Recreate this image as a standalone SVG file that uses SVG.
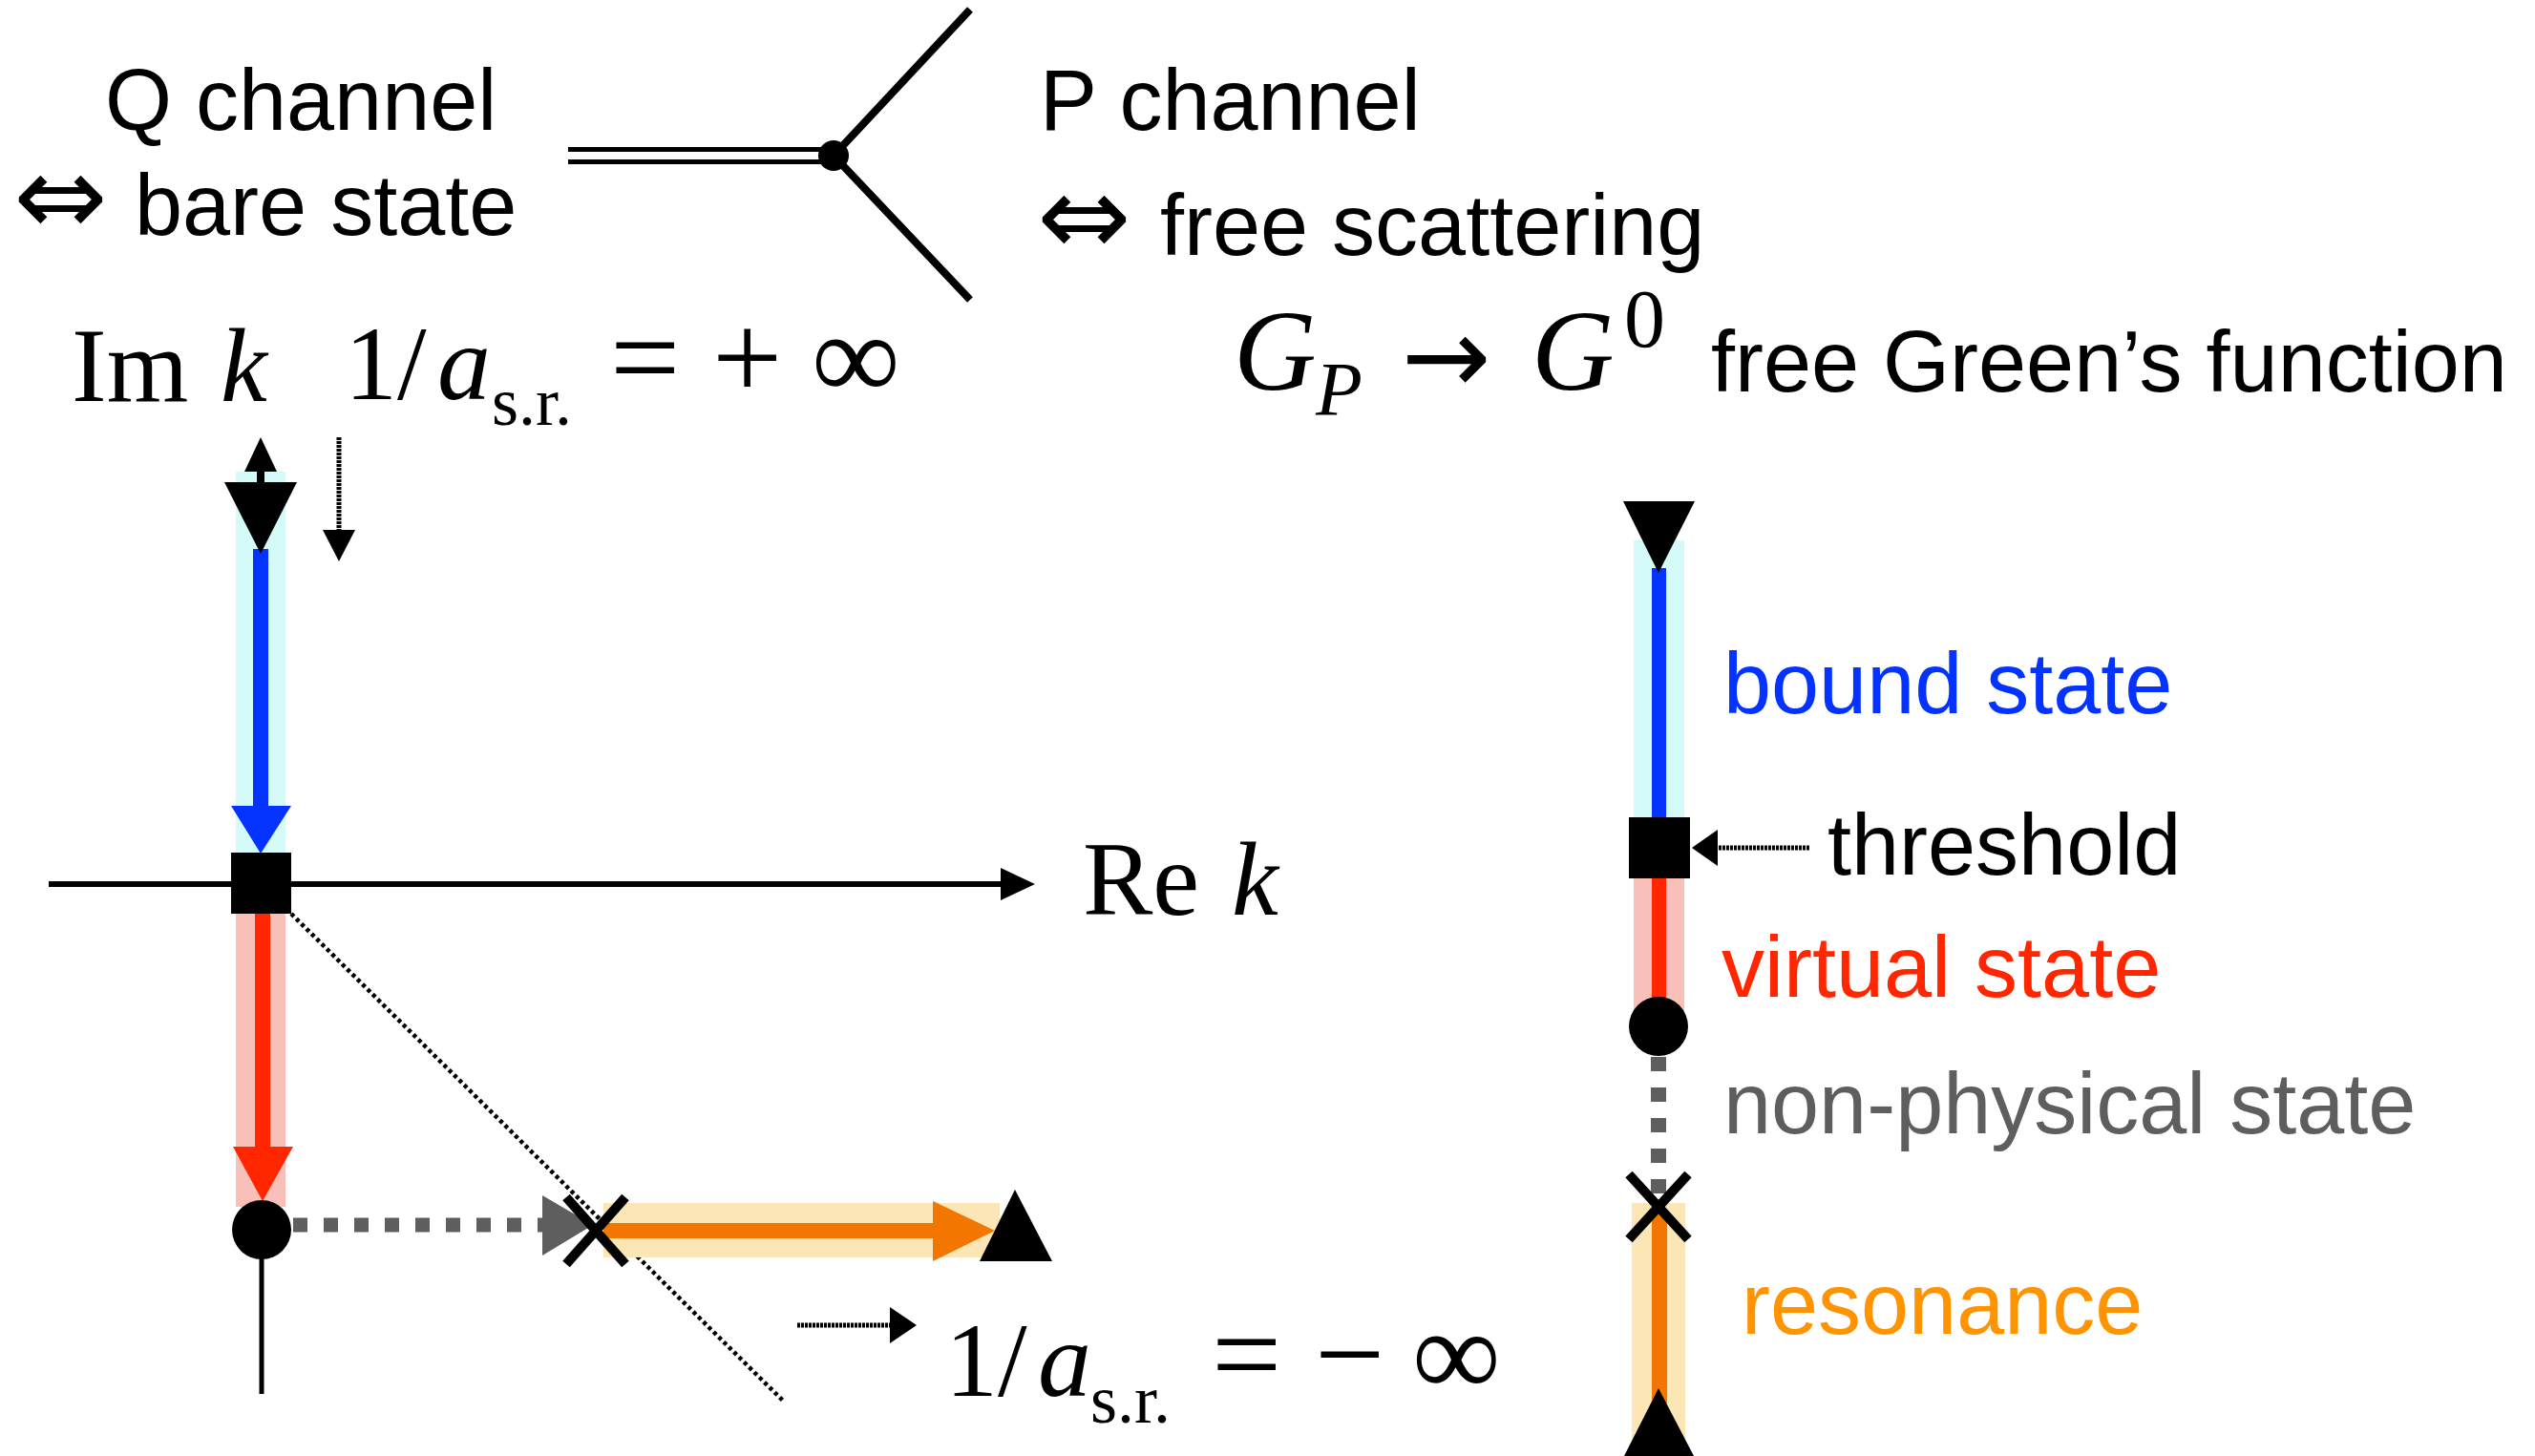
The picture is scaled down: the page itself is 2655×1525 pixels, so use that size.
<svg xmlns="http://www.w3.org/2000/svg" width="2655" height="1525" viewBox="0 0 2655 1525">
<style>
.sans{font-family:"Liberation Sans",Arial,Helvetica,sans-serif;font-size:90px;fill:#000}
.sym{font-family:"DejaVu Sans","Liberation Sans",sans-serif;font-size:118px}
.m{font-family:"Liberation Serif","Times New Roman",serif;fill:#000}
.mi{font-family:"Liberation Serif","Times New Roman",serif;font-style:italic;fill:#000}
.arw{font-family:"DejaVu Sans","Liberation Sans",sans-serif;fill:#000}
.blk{fill:#000}
.ln{stroke:#000;fill:none}
.dotted{stroke:#000;stroke-width:5;fill:none;stroke-dasharray:3 1}
.cyanband{fill:#d4fbf7}
.redband{fill:#f8c0b9}
.orgband{fill:#fde6b5}
.blue{fill:#0433ff}
.red{fill:#ff2600}
.org{fill:#f27600}
.gray{fill:#5e5e5e}
</style>
<rect width="2655" height="1525" fill="#fff"/>

<!-- Top vertex diagram -->
<g id="vertex">
  <line x1="595" y1="163" x2="873" y2="163" stroke="#000" stroke-width="18"/>
  <line x1="595" y1="163" x2="873" y2="163" stroke="#fff" stroke-width="8"/>
  <line class="ln" x1="873" y1="163" x2="1016" y2="10" stroke-width="8"/>
  <line class="ln" x1="873" y1="163" x2="1016" y2="314" stroke-width="8"/>
  <circle cx="873" cy="163" r="16" class="blk"/>
</g>

<g id="label-q">
  <text class="sans" x="110" y="136">Q channel</text>
  <text class="sans" y="246"><tspan class="sym" x="14">⇔</tspan><tspan x="141">bare state</tspan></text>
</g>
<g id="label-p">
  <text class="sans" x="1089" y="136">P channel</text>
  <text class="sans" y="267"><tspan class="sym" x="1086">⇔</tspan><tspan x="1215">free scattering</tspan></text>
</g>
<g id="label-green">
  <text class="mi" x="1292" y="408" font-size="120">G</text>
  <text class="mi" x="1378" y="435" font-size="80">P</text>
  <text class="arw" x="1468" y="412" font-size="112">→</text>
  <text class="mi" x="1604" y="408" font-size="120">G</text>
  <text class="m" x="1701" y="363" font-size="86">0</text>
  <text class="sans" x="1792" y="410">free Green’s function</text>
</g>

<!-- Axes labels and limits -->
<g id="label-imk">
  <text class="m" x="75" y="420" font-size="110">Im</text>
  <text class="mi" x="231" y="420" font-size="110">k</text>
</g>
<g id="label-plus-inf">
  <text class="m" x="361" y="418" font-size="110">1/</text>
  <text class="mi" x="458" y="418" font-size="112">a</text>
  <text class="m" x="515" y="445" font-size="72">s.r.</text>
  <text class="m" x="639" y="418" font-size="130">=</text>
  <text class="m" x="746" y="418" font-size="130">+</text>
  <text class="m" x="850" y="418" font-size="130">∞</text>
</g>
<g id="label-rek">
  <text class="m" x="1134" y="958" font-size="110">Re</text>
  <text class="mi" x="1290" y="958" font-size="110">k</text>
</g>
<g id="label-minus-inf">
  <text class="m" x="990" y="1462" font-size="110">1/</text>
  <text class="mi" x="1087" y="1462" font-size="112">a</text>
  <text class="m" x="1142" y="1490" font-size="72">s.r.</text>
  <text class="m" x="1269" y="1462" font-size="130">=</text>
  <text class="m" x="1377" y="1462" font-size="130">−</text>
  <text class="m" x="1479" y="1462" font-size="130">∞</text>
</g>

<!-- Left: complex k plane trajectory -->
<g id="axes">
  <line class="ln" x1="51" y1="926" x2="1052" y2="926" stroke-width="6"/>
  <polygon class="blk" points="1048,909 1084,926 1048,943"/>
  <line class="ln" x1="274" y1="1288" x2="274" y2="1460" stroke-width="5"/>
  <line x1="305" y1="957" x2="820" y2="1467" stroke="#000" stroke-width="4.5" stroke-dasharray="4 3.5"/>
</g>

<g id="bound-branch">
  <rect class="cyanband" x="247" y="494" width="52" height="400"/>
  <rect class="blue" x="265" y="575" width="16" height="272"/>
  <polygon class="blue" points="242,844 305,844 273,894"/>
  <line class="ln" x1="273" y1="490" x2="273" y2="507" stroke-width="8"/>
  <polygon class="blk" points="256,494 290,494 273,458"/>
  <polygon class="blk" points="235,505 311,505 273,580"/>
</g>

<g id="virtual-branch">
  <rect class="redband" x="247" y="957" width="52" height="307"/>
  <rect class="red" x="267" y="957" width="16" height="248"/>
  <polygon class="red" points="244,1201 307,1201 275,1258"/>
</g>

<g id="threshold-left">
  <rect class="blk" x="242" y="893" width="63" height="64"/>
</g>

<g id="virtual-end-left">
  <circle class="blk" cx="274" cy="1288" r="31"/>
</g>

<g id="nonphysical-branch">
  <line x1="307" y1="1283" x2="568" y2="1283" stroke="#5e5e5e" stroke-width="15" stroke-dasharray="15 17"/>
  <polygon class="gray" points="568,1252 621,1283 568,1315"/>
</g>

<g id="resonance-branch">
  <rect class="orgband" x="632" y="1260" width="415" height="57"/>
  <rect class="org" x="632" y="1281" width="348" height="16"/>
  <polygon class="org" points="977,1258 1042,1289 977,1321"/>
  <polygon class="blk" points="1026,1321 1063,1246 1102,1321"/>
</g>

<g id="pole-cross-left">
  <line class="ln" x1="593" y1="1254" x2="655" y2="1324" stroke-width="10"/>
  <line class="ln" x1="655" y1="1254" x2="593" y2="1324" stroke-width="10"/>
</g>

<g id="connectors">
  <line class="dotted" x1="355" y1="458" x2="355" y2="558"/>
  <polygon class="blk" points="338,555 372,555 355,588"/>
  <line class="dotted" x1="835" y1="1388" x2="935" y2="1388"/>
  <polygon class="blk" points="932,1369 960,1388 932,1407"/>
  <line class="dotted" x1="1895" y1="888" x2="1796" y2="888"/>
  <polygon class="blk" points="1799,869 1772,888 1799,907"/>
</g>

<!-- Right: legend column -->
<g id="legend-bound">
  <rect class="cyanband" x="1711" y="566" width="53" height="292"/>
  <rect class="blue" x="1730" y="595" width="15" height="263"/>
  <polygon class="blk" points="1700,525 1775,525 1737,600"/>
  <text class="sans" x="1805" y="747" style="fill:#0433ff">bound state</text>
</g>
<g id="legend-threshold">
  <rect class="blk" x="1706" y="856" width="64" height="64"/>
  <text class="sans" x="1914" y="916">threshold</text>
</g>
<g id="legend-virtual">
  <rect class="redband" x="1711" y="920" width="53" height="140"/>
  <rect class="red" x="1730" y="920" width="15" height="130"/>
  <circle class="blk" cx="1737" cy="1075" r="31"/>
  <text class="sans" x="1803" y="1044" style="fill:#ff2600">virtual state</text>
</g>
<g id="legend-nonphysical">
  <line x1="1737" y1="1107" x2="1737" y2="1262" stroke="#5e5e5e" stroke-width="16" stroke-dasharray="15 17"/>
  <text class="sans" x="1805" y="1187" style="fill:#5e5e5e">non-physical state</text>
</g>
<g id="legend-resonance">
  <rect class="orgband" x="1709" y="1260" width="56" height="265"/>
  <rect class="org" x="1730" y="1270" width="16" height="200"/>
  <polygon class="blk" points="1701,1525 1737,1454 1774,1525"/>
  <line class="ln" x1="1706" y1="1230" x2="1768" y2="1298" stroke-width="10"/>
  <line class="ln" x1="1768" y1="1230" x2="1706" y2="1298" stroke-width="10"/>
  <text class="sans" x="1824" y="1397" style="fill:#ff9300">resonance</text>
</g>
</svg>
